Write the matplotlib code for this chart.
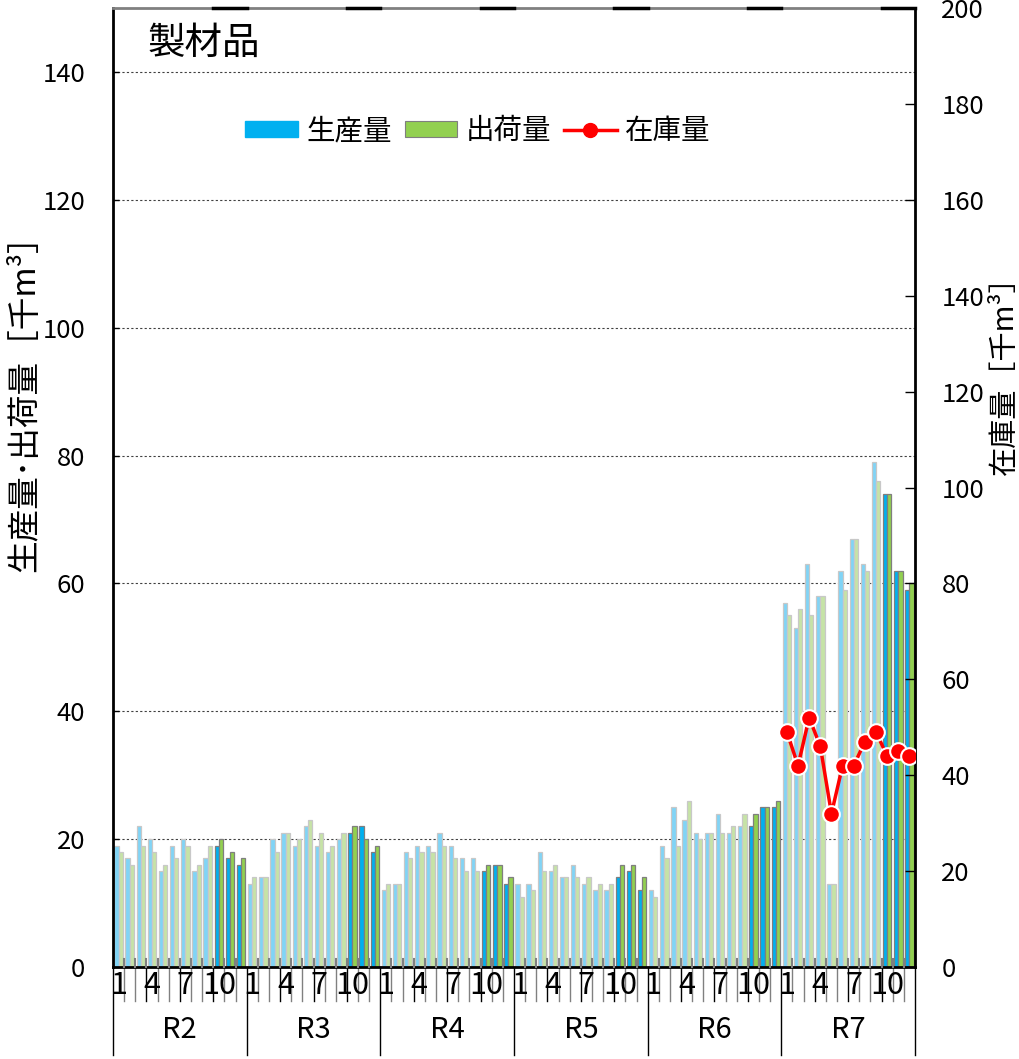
import matplotlib
matplotlib.use('Agg')
import matplotlib.pyplot as plt
import matplotlib.transforms as mtransforms
from matplotlib.lines import Line2D
from matplotlib.patches import Patch
import numpy as np

plt.rcParams['font.family'] = ['Noto Sans CJK JP', 'DejaVu Sans']

# ---------------- data ----------------
title = '製材品'
years = ['R2', 'R3', 'R4', 'R5', 'R6', 'R7']
month_tick_labels = [1, 4, 7, 10]
highlight_months = [10, 11, 12]

production = [
    19, 17, 22, 20, 15, 19, 20, 15, 17, 19, 17, 16,   # R2
    13, 14, 20, 21, 19, 22, 19, 18, 20, 21, 22, 18,   # R3
    12, 13, 18, 19, 19, 21, 19, 17, 17, 15, 16, 13,   # R4
    13, 13, 18, 15, 14, 16, 13, 12, 12, 14, 15, 12,   # R5
    12, 19, 25, 23, 21, 21, 24, 21, 22, 22, 25, 25,   # R6
    57, 53, 63, 58, 13, 62, 67, 63, 79, 74, 62, 59,   # R7
]
shipment = [
    18, 16, 19, 18, 16, 17, 19, 16, 19, 20, 18, 17,   # R2
    14, 14, 18, 21, 20, 23, 21, 19, 21, 22, 20, 19,   # R3
    13, 13, 17, 18, 18, 19, 17, 15, 15, 16, 16, 14,   # R4
    11, 12, 15, 16, 14, 14, 14, 13, 13, 16, 16, 14,   # R5
    11, 17, 19, 26, 20, 21, 21, 22, 24, 24, 25, 26,   # R6
    55, 56, 55, 58, 13, 59, 67, 62, 76, 74, 62, 60,   # R7
]
inventory = [None] * 60 + [49, 42, 52, 46, 32, 42, 42, 47, 49, 44, 45, 44]

legend_labels = ['生産量', '出荷量', '在庫量']
left_label = '生産量･出荷量［千m³］'
right_label = '在庫量［千m³］'

# ---------------- styles ----------------
BLUE_D, BLUE_L = '#00B0F0', '#80D4F6'
GREEN_D, GREEN_L = '#92D050', '#C6E3A6'
EDGE_D, EDGE_L = '#7F7F7F', '#C8C8C8'

W, H = 1019, 1059
AXH = 959
fig = plt.figure(figsize=(W / 100, H / 100), dpi=100)
ax = fig.add_axes([113 / W, 1 - 967 / H, 802 / W, AXH / H])

n = len(production)
x = np.arange(n) + 0.5
month_num = np.tile(np.arange(1, 13), len(years))
hl = np.isin(month_num, highlight_months)

bw = 0.38
ax.bar(x - bw / 2, production, width=bw,
       color=np.where(hl, BLUE_D, BLUE_L), edgecolor=np.where(hl, EDGE_D, EDGE_L),
       linewidth=0.9, zorder=2)
ax.bar(x + bw / 2, shipment, width=bw,
       color=np.where(hl, GREEN_D, GREEN_L), edgecolor=np.where(hl, EDGE_D, EDGE_L),
       linewidth=0.9, zorder=2)

ax.set_xlim(0, n)
ax.set_ylim(0, 150)
ax.set_yticks(np.arange(0, 141, 20))
ax.yaxis.grid(True, color='#404040', linestyle=(0, (2, 2)), linewidth=0.8)
ax.set_axisbelow(True)
ax.tick_params(axis='y', direction='in', length=4, width=1, labelsize=18.5, pad=20)
ax.set_xticks([])

trans = mtransforms.blended_transform_factory(ax.transData, ax.transAxes)

# month tick labels
for i in range(n):
    if month_num[i] in month_tick_labels:
        ax.text(x[i], -18 / AXH, str(month_num[i]), transform=trans, ha='center',
                va='center', fontsize=22)

# month boundary lines
for b in range(n + 1):
    m = b % 12
    if m == 0:
        ax.plot([b, b], [-88 / AXH, 0], color='black', lw=1, transform=trans, clip_on=False)
    else:
        col = 'black' if m % 3 == 0 else '#808080'
        ax.plot([b, b], [-34 / AXH, 0], color=col, lw=1, transform=trans, clip_on=False)
        ax.plot([b, b], [0, 8 / AXH], color='#808080', lw=1.5, transform=trans,
                clip_on=False, zorder=3)

# year labels
for k, yname in enumerate(years):
    ax.text(k * 12 + 6, -63 / AXH, yname, transform=trans, ha='center', va='center',
            fontsize=21)

# spines
for s in ['left', 'right', 'bottom']:
    ax.spines[s].set_linewidth(2)
    ax.spines[s].set_color('black')
ax.spines['top'].set_color('#808080')
ax.spines['top'].set_linewidth(2)
# black segments on top spine over highlighted months
i = 0
while i < n:
    if hl[i]:
        j = i
        while j < n and hl[j]:
            j += 1
        ax.plot([i, j], [1, 1], color='black', lw=2.5, transform=trans, clip_on=False,
                zorder=5)
        i = j
    else:
        i += 1

# inventory on secondary axis
ax2 = ax.twinx()
ax2.set_ylim(0, 200)
ax2.set_yticks(np.arange(0, 201, 20))
ax2.tick_params(axis='y', direction='in', length=7, width=1, labelsize=18.5, pad=19)
inv = np.array([np.nan if v is None else v for v in inventory], dtype=float)
ax2.plot(x, inv, color='#FF0000', lw=2.5, marker='o', markersize=12,
         markerfacecolor='#FF0000', markeredgecolor='white', markeredgewidth=1.5, zorder=4)
for s in ax2.spines.values():
    s.set_visible(False)

# title
ax.text(35 / 802, (967 - 43) / AXH, title, transform=ax.transAxes, fontsize=27,
        ha='left', va='center')

# legend
handles = [Patch(facecolor=BLUE_D, edgecolor=BLUE_D),
           Patch(facecolor=GREEN_D, edgecolor=EDGE_D, linewidth=0.8),
           Line2D([], [], color='#FF0000', lw=2.5, marker='o', markersize=10,
                  markerfacecolor='#FF0000', markeredgecolor='#FF0000')]
ax2.legend(handles, legend_labels, ncol=3, frameon=False, fontsize=20.5,
           loc='center left', bbox_to_anchor=((245 - 113) / 802, (967 - 131) / AXH),
           handlelength=1.85, handleheight=0.45, handletextpad=0.3, columnspacing=0.45,
           borderpad=0, borderaxespad=0)

# axis labels
fig.text(25 / W, 1 - 395 / H, left_label, rotation=90, ha='center', va='center', fontsize=23.5)
fig.text(1005 / W, 1 - 368 / H, right_label, rotation=90, ha='center', va='center', fontsize=21)

fig.savefig('out.png', dpi=100)
